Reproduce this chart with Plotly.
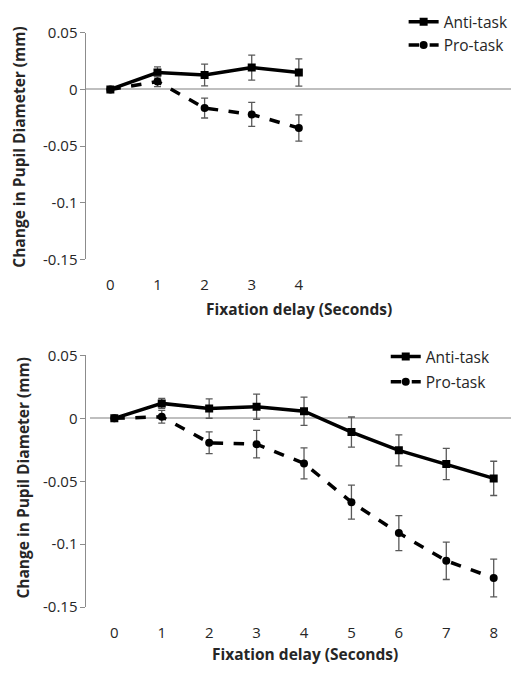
import plotly.graph_objects as go

# ---- data ----
x_top = [0, 1, 2, 3, 4]
anti_top = [0, 0.015, 0.0127, 0.0193, 0.015]
anti_top_err = [0, 0.005, 0.0096, 0.011, 0.012]
pro_top = [0, 0.007, -0.0164, -0.022, -0.034]
pro_top_err = [0, 0.0045, 0.0088, 0.0106, 0.0116]

x_bot = [0, 1, 2, 3, 4, 5, 6, 7, 8]
anti_bot = [0, 0.0119, 0.0078, 0.0093, 0.0057, -0.0109, -0.0254, -0.0363, -0.0477]
anti_bot_err = [0, 0.004, 0.0077, 0.010, 0.0112, 0.012, 0.0123, 0.0124, 0.0136]
pro_bot = [0, 0.0013, -0.0194, -0.0205, -0.0358, -0.0666, -0.0912, -0.1132, -0.1269]
pro_bot_err = [0, 0.005, 0.0086, 0.0109, 0.0123, 0.0135, 0.0139, 0.0149, 0.015]

y_ticks = [0.05, 0, -0.05, -0.1, -0.15]
y_tick_text = ["0.05", "0", "-0.05", "-0.1", "-0.15"]
series_names = ["Anti-task", "Pro-task"]
x_title = "Fixation delay (Seconds)"
y_title = "Change in Pupil Diameter (mm)"

W, H = 514, 674
FONT = "Open Sans"
ERRC = "#595959"

fig = go.Figure()

def add_series(x, y, err, name, dash, symbol, xa, ya, legend, group):
    fig.add_trace(go.Scatter(
        x=x, y=y, name=name, mode="lines+markers",
        line=dict(color="black", width=3.5, dash=dash),
        marker=dict(symbol=symbol, size=8, color="black"),
        error_y=dict(type="data", array=err, visible=True, color=ERRC,
                     thickness=1.3, width=3.5),
        xaxis=xa, yaxis=ya, legend=legend, legendgroup=group,
    ))

add_series(x_top, anti_top, anti_top_err, series_names[0], "solid", "square", "x", "y", "legend", "g1")
add_series(x_top, pro_top, pro_top_err, series_names[1], "dash", "circle", "x", "y", "legend", "g1")
add_series(x_bot, anti_bot, anti_bot_err, series_names[0], "solid", "square", "x2", "y2", "legend2", "a2")
add_series(x_bot, pro_bot, pro_bot_err, series_names[1], "dash", "circle", "x2", "y2", "legend2", "p2")

def yaxis_cfg(top_px, bot_px):
    return dict(
        domain=[1 - bot_px / H, 1 - top_px / H],
        range=[-0.15, 0.05], tickvals=y_ticks, ticktext=y_tick_text,
        showgrid=False, zeroline=True, zerolinecolor="#bfbfbf", zerolinewidth=1.5,
        showline=True, linecolor="#8c8c8c", linewidth=1,
        ticks="outside", ticklen=5, tickcolor="#8c8c8c",
        tickfont=dict(family=FONT, size=15, color="#262626"),
        fixedrange=True,
    )

def xaxis_cfg(left_px, zero_px, unit_px, ticks, anchor):
    return dict(
        domain=[left_px / W, 1],
        range=[(left_px - zero_px) / unit_px, (W - zero_px) / unit_px],
        tickvals=ticks, showgrid=False, zeroline=False, showline=False,
        ticks="outside", ticklen=12, tickcolor="rgba(0,0,0,0)",
        tickfont=dict(family=FONT, size=15, color="#262626"),
        anchor=anchor, fixedrange=True,
    )

fig.update_layout(
    width=W, height=H,
    margin=dict(l=0, r=0, t=0, b=0),
    paper_bgcolor="white", plot_bgcolor="white",
    font=dict(family=FONT, color="#262626"),
    xaxis=xaxis_cfg(87, 111, 47.4, x_top, "y"),
    yaxis=yaxis_cfg(22.5, 256),
    xaxis2=xaxis_cfg(91, 115, 47.7, x_bot, "y2"),
    yaxis2=yaxis_cfg(355, 614.3),
    legend=dict(x=406 / W, y=1 + 6 / H, xanchor="left", yanchor="top",
                font=dict(family=FONT, size=15.5, color="#262626"),
                bgcolor="rgba(0,0,0,0)", tracegroupgap=0, itemwidth=30),
    legend2=dict(x=388 / W, y=1 - 339 / H, xanchor="left", yanchor="top",
                 font=dict(family=FONT, size=15.5, color="#262626"),
                 bgcolor="rgba(0,0,0,0)", tracegroupgap=2, itemwidth=30),
    showlegend=True,
)

def ann(text, px, py, angle=0):
    fig.add_annotation(text=text, x=px / W, y=1 - py / H, xref="paper", yref="paper",
                       xanchor="center", yanchor="middle", showarrow=False, textangle=angle,
                       font=dict(family=FONT, size=15.5, color="#262626", weight="bold"))

ann(x_title, 300.5, 306.7)
ann(x_title, 307, 663)
ann(y_title, 19, 140, -90)
ann(y_title, 23, 481, -90)

fig.write_html("out.html")
